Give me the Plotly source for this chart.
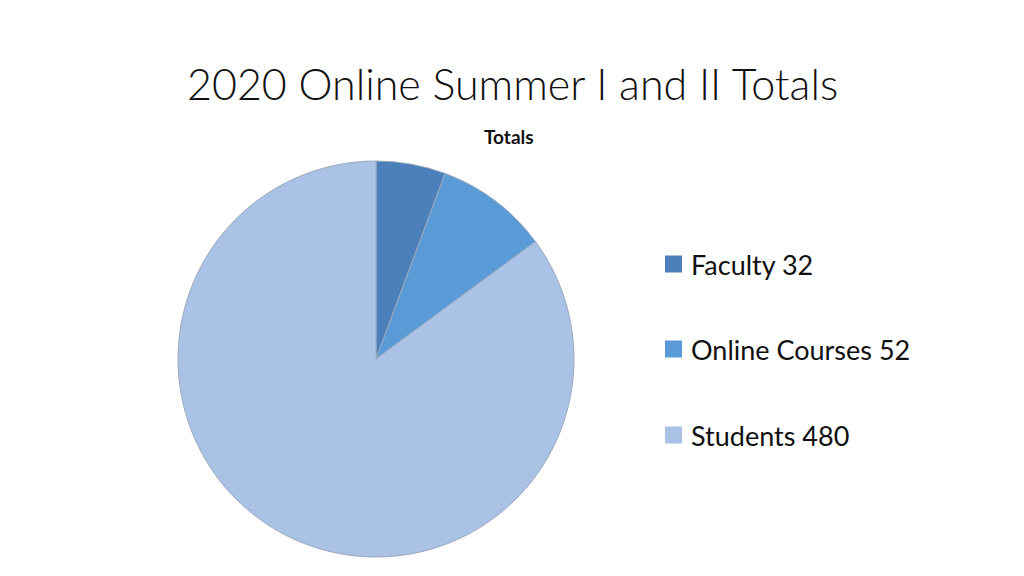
import plotly.graph_objects as go

labels = ["Faculty", "Online Courses", "Students"]
values = [32, 52, 480]
colors = ["#4c80ba", "#5a9ad6", "#a9c2e5"]

title_text = "2020 Online Summer I and II Totals"
subtitle_text = "Totals"

W, H = 1024, 576
OFF = 8  # page body margin


def px(x):
    return (x - OFF) / W


def py(y):
    return 1 - (y - OFF) / H


fig = go.Figure()

fig.add_trace(go.Pie(
    labels=labels,
    values=values,
    sort=False,
    direction="clockwise",
    rotation=0,
    textinfo="none",
    hoverinfo="label+value",
    marker=dict(colors=colors, line=dict(color="#9aa9bd", width=1)),
    domain=dict(x=[px(178), px(574)], y=[py(557), py(161)]),
    showlegend=False,
))

# legend drawn by hand so the item spacing matches
legend_y = [264, 349, 435]
for lab, val, col, y in zip(labels, values, colors, legend_y):
    fig.add_shape(type="rect", xref="paper", yref="paper",
                  x0=px(665), x1=px(682),
                  y0=py(y + 8.5), y1=py(y - 8.5),
                  fillcolor=col, line=dict(width=0))
    fig.add_annotation(x=px(689), y=py(y), xref="paper", yref="paper",
                       text=f"{lab} {val}", showarrow=False,
                       xanchor="left", yanchor="middle",
                       font=dict(family="Lato", size=27, color="#111111"))

fig.add_annotation(x=px(512), y=py(84), xref="paper", yref="paper",
                   text=title_text, showarrow=False,
                   xanchor="center", yanchor="middle",
                   font=dict(family="Lato", size=43, color="#111111", weight=300))
fig.add_annotation(x=px(509), y=py(136), xref="paper", yref="paper",
                   text=f"<b>{subtitle_text}</b>", showarrow=False,
                   xanchor="center", yanchor="middle",
                   font=dict(family="Lato", size=19, color="#111111"))

fig.update_layout(
    width=W, height=H,
    margin=dict(l=0, r=0, t=0, b=0),
    paper_bgcolor="white",
    plot_bgcolor="white",
)

fig.write_html("out.html")
